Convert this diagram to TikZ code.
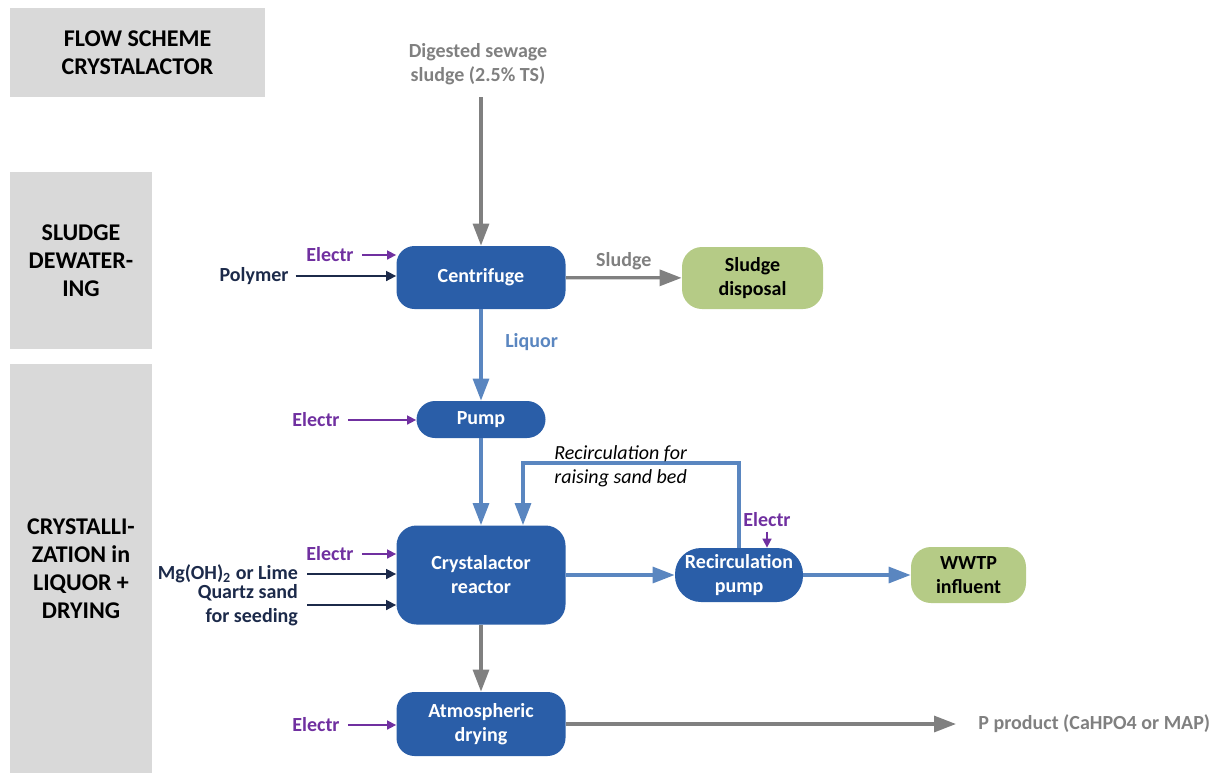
\documentclass[tikz,border=0pt]{standalone}
\usepackage{fontspec}
\setmainfont{Carlito}
\usetikzlibrary{arrows.meta}

\definecolor{unitblue}{HTML}{2A5EA8}
\definecolor{flowblue}{HTML}{5A86C0}
\definecolor{flowgray}{HTML}{808080}
\definecolor{phasegray}{HTML}{D9D9D9}
\definecolor{sinkgreen}{HTML}{B5CB86}
\definecolor{electrpurple}{HTML}{7030A0}
\definecolor{dosenavy}{HTML}{1C2A4A}

\begin{document}
\begin{tikzpicture}[%
        x = 0.5pt,
        y = -0.5pt,
        font = \fontsize{10}{12}\selectfont\bfseries,
        phase/.style = {%
            fill = phasegray,
            inner sep = 0pt,
            align = center,
            font = \fontsize{12}{14}\selectfont\bfseries
        },
        unit/.style = {%
            fill = unitblue,
            text = white,
            rounded corners = 9pt,
            inner sep = 0pt,
            align = center
        },
        sink/.style = {%
            fill = sinkgreen,
            rounded corners = 10pt,
            inner sep = 0pt,
            align = center
        },
        electr/.style = {%
            text = electrpurple,
            inner sep = 4pt
        },
        dose/.style = {%
            text = dosenavy,
            align = right
        },
        grayflow/.style = {%
            draw = flowgray,
            line width = 1.6pt,
            -{Triangle[length = 11pt, width = 8pt]}
        },
        blueflow/.style = {%
            draw = flowblue,
            line width = 1.6pt,
            -{Triangle[length = 11pt, width = 8pt]}
        },
        electrarrow/.style = {%
            draw = electrpurple,
            line width = 0.8pt,
            -{Triangle[length = 4.5pt, width = 4.5pt]}
        },
        dosearrow/.style = {%
            draw = dosenavy,
            line width = 0.8pt,
            -{Triangle[length = 5pt, width = 5pt]}
        }
    ]

        \useasboundingbox (0, 0) rectangle (1220, 773);

        % Gray phase boxes on the left.
        \node[phase, minimum width = 127.5pt, minimum height = 44.5pt]
            (title) at (137.5, 52.5) {FLOW SCHEME\\CRYSTALACTOR};
        \node[phase, minimum width = 71pt, minimum height = 88.5pt]
            (dewatering) at (81, 260.5) {SLUDGE\\DEWATER-\\ING};
        \node[phase, minimum width = 71pt, minimum height = 204.5pt]
            (crystallization) at (81, 568.5) {CRYSTALLI-\\ZATION in\\LIQUOR +\\DRYING};

        % Process units.
        \node[unit, minimum width = 84.5pt, minimum height = 31.5pt]
            (centrifuge) at (481, 277.5) {Centrifuge};
        \node[unit, rounded corners = 9.25pt, minimum width = 64.5pt, minimum height = 18.5pt]
            (pump) at (481, 419.5) {Pump};
        \node[unit, rounded corners = 10pt, minimum width = 84.5pt, minimum height = 49.5pt]
            (reactor) at (481, 575) {Crystalactor\\reactor};
        \node[unit, rounded corners = 13pt, minimum width = 64pt, minimum height = 27pt]
            (recpump) at (739, 575) {Recirculation\\pump};
        \node[unit, minimum width = 84.5pt, minimum height = 32pt]
            (drying) at (481, 724) {Atmospheric\\drying};

        % Sinks.
        \node[sink, minimum width = 70.5pt, minimum height = 31pt]
            (disposal) at (752.5, 278) {Sludge\\disposal};
        \node[sink, minimum width = 57.5pt, minimum height = 28pt]
            (influent) at (968.5, 575) {WWTP\\influent};

        % Feed and product.
        \node[text = flowgray, align = center, inner sep = 6pt]
            (digested) at (478, 64) {Digested sewage\\sludge (2.5\% TS)};
        \node[text = flowgray, anchor = west, inner sep = 0pt]
            (product) at (978, 724) {P product (CaHPO4 or MAP)};

        % Main flow.
        \draw[grayflow] (centrifuge.north |- digested.south) -- (centrifuge.north);
        \draw[grayflow] (centrifuge) -- (disposal)
            node[midway, above, text = flowgray] {Sludge};
        \draw[blueflow] (centrifuge) -- (pump)
            node[pos = 0.36, right = 8pt, text = flowblue] {Liquor};
        \draw[blueflow] (pump) -- (reactor);
        \draw[blueflow] (reactor) -- (recpump);
        \draw[blueflow] (recpump) -- (influent);
        \draw[grayflow] (reactor) -- (drying);
        \draw[grayflow, shorten > = 11pt] (drying) -- (product);

        % Recirculation loop back into the reactor.
        \coordinate (loop) at (523, 463);
        \draw[blueflow] (recpump.north) |- (loop) -- (loop |- reactor.north);
        \node[anchor = south west, inner sep = 0pt, align = left,
              font = \fontsize{10}{12}\selectfont\itshape]
            (loopnote) at (554, 487) {Recirculation for\\raising sand bed};

        % Electricity and dosing inputs.
        \node[electr] (elcentrifuge) at (330, 255) {Electr};
        \draw[electrarrow] (elcentrifuge.east) -- (elcentrifuge.east -| centrifuge.west);
        \node[dose] (polymer) at (254, 276) {Polymer};
        \draw[dosearrow] (polymer.east) -- (polymer.east -| centrifuge.west);

        \node[electr] (elpump) at (316, 420) {Electr};
        \draw[electrarrow] (elpump.east) -- (elpump.east -| pump.west);

        \node[electr] (elreactor) at (330, 554) {Electr};
        \draw[electrarrow] (elreactor.east) -- (elreactor.east -| reactor.west);
        \node[dose, anchor = east] (lime) at (305, 574) {Mg(OH)\textsubscript{2} or Lime};
        \draw[dosearrow] ([xshift = 1pt] lime.east) -- (lime.east -| reactor.west);
        \node[dose, anchor = east] (sand) at (305, 605) {Quartz sand\\for seeding};
        \draw[dosearrow] ([xshift = 1pt] sand.east) -- (sand.east -| reactor.west);

        \node[electr] (elrecpump) at (767, 520) {Electr};
        \draw[electrarrow, shorten < = -2pt] (elrecpump.south) -- (elrecpump.south |- recpump.north);

        \node[electr] (eldrying) at (316, 725) {Electr};
        \draw[electrarrow] (eldrying.east) -- (eldrying.east -| drying.west);
    \end{tikzpicture}
\end{document}
